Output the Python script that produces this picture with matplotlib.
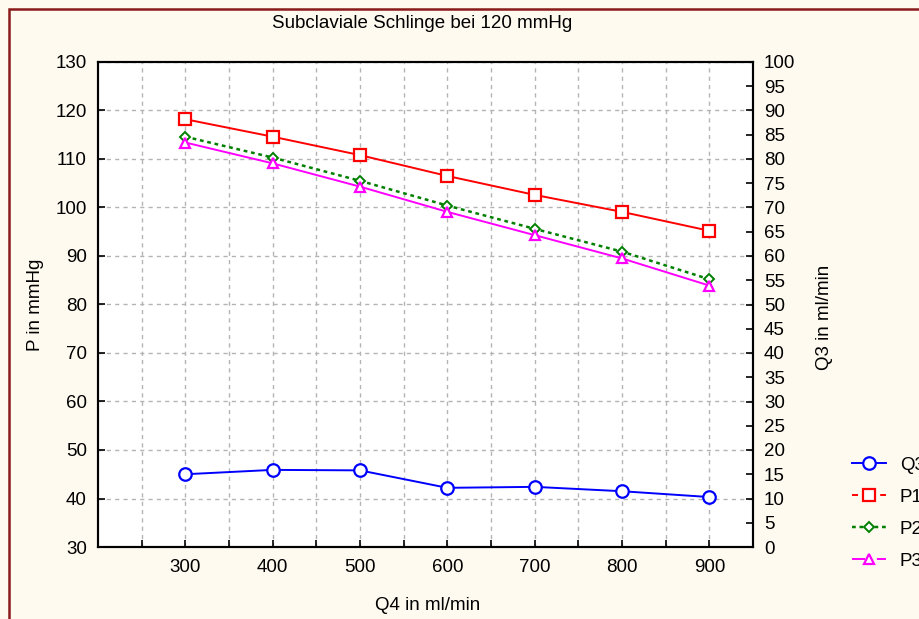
import matplotlib
matplotlib.use("Agg")
import matplotlib.pyplot as plt
from matplotlib.lines import Line2D
from matplotlib.patches import Rectangle

plt.rcParams['font.family'] = ['Liberation Sans', 'DejaVu Sans']

# data
q4 = [300, 400, 500, 600, 700, 800, 900]
q3 = [15.0, 15.9, 15.8, 12.2, 12.4, 11.5, 10.3]
p1 = [118.2, 114.6, 110.8, 106.5, 102.6, 99.1, 95.2]
p2 = [114.6, 110.3, 105.5, 100.4, 95.6, 90.9, 85.2]
p3 = [113.4, 109.1, 104.3, 99.1, 94.3, 89.5, 83.9]

title = "Subclaviale Schlinge bei 120 mmHg"
x_label = "Q4 in ml/min"
y_label = "P in mmHg"
y2_label = "Q3 in ml/min"
legend_labels = ["Q3", "P1", "P2", "P3"]

bg = '#fefaf0'
fs = 13.5
fig = plt.figure(figsize=(9.2, 6.19), dpi=100, facecolor=bg)

# dark red frame around the chart
fig.patches.append(Rectangle((9.5 / 920, -0.05), 1.1, (619 - 8.5) / 619 + 0.05,
                             transform=fig.transFigure, fill=False,
                             edgecolor='#8b1a1a', linewidth=1.8, zorder=0))

ax = fig.add_axes([98 / 920, 1 - 547 / 619, (753 - 98) / 920, (547 - 62) / 619])
ax.set_facecolor('white')
ax2 = ax.twinx()

ax.set_xlim(200, 950)
ax.set_ylim(30, 130)
ax2.set_ylim(0, 100)

ax.set_xticks(range(300, 901, 100))
ax.set_xticks(range(250, 951, 100), minor=True)
ax.set_yticks(range(30, 131, 10))
ax2.set_yticks(range(0, 101, 5))

ax.grid(True, which='both', axis='x', color='#b4b4b4', linestyle=(0, (3, 3)), linewidth=1.0)
ax.grid(True, which='major', axis='y', color='#b4b4b4', linestyle=(0, (3, 3)), linewidth=1.0)
ax.set_axisbelow(True)

for a in (ax, ax2):
    a.tick_params(which='both', direction='in', length=5, width=1.2, labelsize=fs, colors='black')
    for s in a.spines.values():
        s.set_linewidth(1.5)
ax.tick_params(axis='y', right=False)
ax.tick_params(axis='x', pad=9)
ax.tick_params(axis='y', pad=8)
ax2.tick_params(axis='y', pad=8)

lw = 1.4
ax.plot(q4, p1, color='#ff0000', lw=lw, marker='s', ms=9, mfc='white', mec='#ff0000', mew=1.6, zorder=3)
ax.plot(q4, p2, color='#008000', lw=lw + 0.4, ls=(0, (1.5, 1.5)), marker='D', ms=5, mfc='white', mec='#008000', mew=1.4, zorder=3)
ax.plot(q4, p3, color='#ff00ff', lw=lw, marker='^', ms=7.5, mfc='white', mec='#ff00ff', mew=1.6, zorder=3)
ax2.plot(q4, q3, color='#0000ff', lw=lw, marker='o', ms=9, mfc='white', mec='#0000ff', mew=1.6, zorder=3)

fig.text(422 / 920, 1 - 24 / 619, title, ha='center', va='center', fontsize=fs)
fig.text(428 / 920, 1 - 606 / 619, x_label, ha='center', va='center', fontsize=fs)
fig.text(35 / 920, 1 - 305 / 619, y_label, ha='center', va='center', rotation=90, fontsize=fs)
fig.text(825 / 920, 1 - 317 / 619, y2_label, ha='center', va='center', rotation=90, fontsize=fs)

# legend samples as drawn in the original (short pieces of line either side of the marker)
handles = [
    Line2D([], [], color='#0000ff', lw=lw, marker='o', ms=9, mfc='white', mec='#0000ff', mew=1.6),
    Line2D([], [], color='#ff0000', lw=lw, ls=(0, (3.1, 11.4)), marker='s', ms=9, mfc='white', mec='#ff0000', mew=1.6),
    Line2D([], [], color='#008000', lw=lw + 0.4, ls=(0, (1.5, 1.5)), marker='D', ms=5, mfc='white', mec='#008000', mew=1.4),
    Line2D([], [], color='#ff00ff', lw=lw, ls=(0, (6.7, 6.1)), marker='^', ms=7.5, mfc='white', mec='#ff00ff', mew=1.6),
]
fig.legend(handles, legend_labels, loc='upper left', bbox_to_anchor=(835 / 920, 1 - 440 / 619),
           frameon=False, fontsize=fs, handlelength=1.8, handletextpad=0.75, labelspacing=0.79)

fig.savefig('out.png', dpi=100, facecolor=bg)
